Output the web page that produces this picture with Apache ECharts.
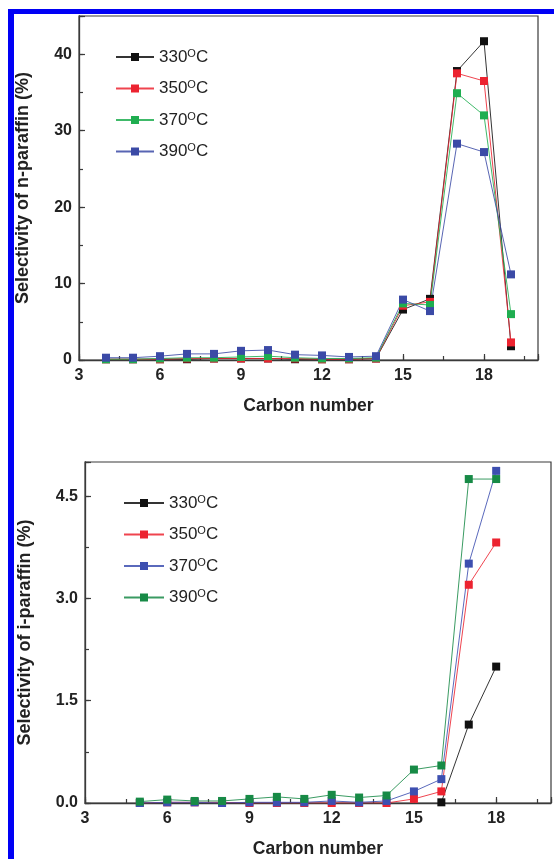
<!DOCTYPE html>
<html>
<head>
<meta charset="utf-8">
<script src="https://cdn.jsdelivr.net/npm/echarts@6/dist/echarts.min.js"></script>
<style>
  html, body { margin: 0; padding: 0; background: #fff; }
  #frame {
    position: absolute; left: 8px; top: 9px; right: 0; bottom: 0;
    border-left: 6px solid #0000f5; border-top: 5px solid #0000f5;
  }
  #chart { position: absolute; left: 0; top: 0; width: 554px; height: 859px; }
</style>
</head>
<body>
<div id="frame"></div>
<div id="chart"></div>
<script>
// top panel: n-paraffin selectivity (%)
const carbonTop = [4, 5, 6, 7, 8, 9, 10, 11, 12, 13, 14, 15, 16, 17, 18, 19]
const n330 = [0.1, 0.1, 0.1, 0.1, 0.2, 0.2, 0.2, 0.1, 0.1, 0.1, 0.2, 6.6, 8.0, 37.8, 41.7, 1.8]
const n350 = [0.1, 0.1, 0.1, 0.2, 0.2, 0.2, 0.2, 0.2, 0.1, 0.1, 0.2, 7.1, 7.6, 37.5, 36.5, 2.3]
const n370 = [0.1, 0.1, 0.2, 0.3, 0.3, 0.4, 0.5, 0.3, 0.2, 0.2, 0.3, 7.4, 7.2, 34.9, 32.0, 6.0]
const n390 = [0.3, 0.3, 0.5, 0.8, 0.8, 1.2, 1.3, 0.7, 0.6, 0.4, 0.5, 7.9, 6.4, 28.3, 27.2, 11.2]

// bottom panel: i-paraffin selectivity (%)
const carbonBottom = [5, 6, 7, 8, 9, 10, 11, 12, 13, 14, 15, 16, 17, 18]
const i330 = [null, null, null, null, null, null, null, null, null, null, null, 0.01, 1.15, 2.0]
const i350 = [0, 0.01, 0.01, 0.01, 0, 0, 0, 0, 0, 0, 0.06, 0.17, 3.20, 3.82]
const i370 = [0, 0.01, 0.01, 0, 0.01, 0.01, 0.01, 0.03, 0.01, 0.03, 0.17, 0.35, 3.51, 4.87]
const i390 = [0.02, 0.05, 0.03, 0.03, 0.06, 0.09, 0.06, 0.12, 0.08, 0.11, 0.49, 0.55, 4.75, 4.75]

const temps = ['330', '350', '370', '390']
const xTicks = [3, 6, 9, 12, 15, 18]

const FONT = '"Liberation Sans", Arial, sans-serif'
const AXIS = '#3a3a3a'

function pairs(xs, ys) {
  return xs.map((x, i) => [x, ys[i]])
}

function line(name, xs, ys, color, grid) {
  return {
    name: name,
    type: 'line',
    xAxisIndex: grid * 2,
    yAxisIndex: grid * 2,
    data: pairs(xs, ys),
    symbol: 'rect',
    symbolSize: 8,
    showAllSymbol: true,
    connectNulls: false,
    itemStyle: { color: color },
    lineStyle: { color: color, width: 1, opacity: 0.85 },
    emphasis: { disabled: true }
  }
}

function xAxes(grid) {
  return [{
    type: 'value',
    gridIndex: grid,
    position: 'bottom',
    min: 3,
    max: 20,
    interval: 3,
    name: 'Carbon number',
    nameLocation: 'middle',
    nameGap: 37,
    nameTextStyle: { fontFamily: FONT, fontWeight: 'bold', fontSize: 17.5, color: '#222' },
    axisLine: { lineStyle: { color: AXIS, width: 1.3 } },
    axisTick: { inside: true, length: 6, lineStyle: { color: AXIS, width: 1.2 } },
    axisLabel: {
      margin: 8,
      fontFamily: FONT, fontWeight: 'bold', fontSize: 16, color: '#222',
      formatter: v => (xTicks.indexOf(v) >= 0 ? String(v) : '')
    },
    splitLine: { show: false }
  }, {
    // minor ticks every 1.5
    type: 'value',
    gridIndex: grid,
    position: 'bottom',
    offset: 0,
    min: 3,
    max: 20,
    interval: 1.5,
    axisLine: { show: false },
    axisTick: { inside: true, length: 4, lineStyle: { color: AXIS, width: 1.2 } },
    axisLabel: { show: false },
    splitLine: { show: false }
  }]
}

function yAxes(grid, max, step, name, gap, fmt) {
  return [{
    type: 'value',
    gridIndex: grid,
    position: 'left',
    min: 0,
    max: max,
    interval: step,
    name: name,
    nameLocation: 'middle',
    nameGap: gap,
    nameTextStyle: { fontFamily: FONT, fontWeight: 'bold', fontSize: 18, color: '#222' },
    axisLine: { show: true, lineStyle: { color: AXIS, width: 1.3 } },
    axisTick: { show: true, inside: true, length: 6, lineStyle: { color: AXIS, width: 1.2 } },
    axisLabel: {
      margin: 7,
      fontFamily: FONT, fontWeight: 'bold', fontSize: 16, color: '#222',
      formatter: fmt
    },
    splitLine: { show: false }
  }, {
    // minor ticks at half steps
    type: 'value',
    gridIndex: grid,
    position: 'left',
    offset: 0,
    min: 0,
    max: max,
    interval: step / 2,
    axisLine: { show: false },
    axisTick: { show: true, inside: true, length: 4, lineStyle: { color: AXIS, width: 1.2 } },
    axisLabel: { show: false },
    splitLine: { show: false }
  }]
}

function legend(names, left, top, width) {
  return {
    data: names,
    orient: 'vertical',
    left: left,
    top: top,
    padding: 0,
    itemWidth: width,
    itemHeight: 10,
    itemGap: 14,
    selectedMode: false,
    formatter: name => '{a|' + name.slice(1) + '}{b|O}{a|C}',
    textStyle: {
      rich: {
        a: { fontFamily: FONT, fontSize: 17, color: '#222', lineHeight: 18 },
        b: { fontFamily: FONT, fontSize: 11, color: '#222', lineHeight: 9, verticalAlign: 'top' }
      }
    }
  }
}

const topColors = ['#111111', '#ec2330', '#1fae50', '#3b4aa6']
const bottomColors = ['#111111', '#ec2330', '#3d4fb0', '#178a46']

const chart = echarts.init(document.getElementById('chart'), null, { renderer: 'canvas' })
chart.setOption({
  animation: false,
  backgroundColor: 'transparent',
  grid: [
    { left: 79, top: 16, width: 459, height: 344, show: true, borderColor: AXIS, borderWidth: 1.2 },
    { left: 85, top: 462, width: 467, height: 343, show: true, borderColor: AXIS, borderWidth: 1.2 }
  ],
  xAxis: xAxes(0).concat(xAxes(1)),
  yAxis: yAxes(0, 45, 10, 'Selectivity of n-paraffin (%)', 47, v => (v % 10 === 0 ? String(v) : ''))
    .concat(yAxes(1, 5, 1.5, 'Selectivity of i-paraffin (%)', 51,
      v => (Math.abs(v / 1.5 - Math.round(v / 1.5)) < 1e-6 ? v.toFixed(1) : ''))),
  legend: [
    legend(temps.map(t => 'n' + t), 115, 48, 38),
    legend(temps.map(t => 'i' + t), 123, 494, 40)
  ],
  series: [
    line('n330', carbonTop, n330, topColors[0], 0),
    line('n350', carbonTop, n350, topColors[1], 0),
    line('n370', carbonTop, n370, topColors[2], 0),
    line('n390', carbonTop, n390, topColors[3], 0),
    line('i330', carbonBottom, i330, bottomColors[0], 1),
    line('i350', carbonBottom, i350, bottomColors[1], 1),
    line('i370', carbonBottom, i370, bottomColors[2], 1),
    line('i390', carbonBottom, i390, bottomColors[3], 1)
  ]
})
</script>
</body>
</html>
